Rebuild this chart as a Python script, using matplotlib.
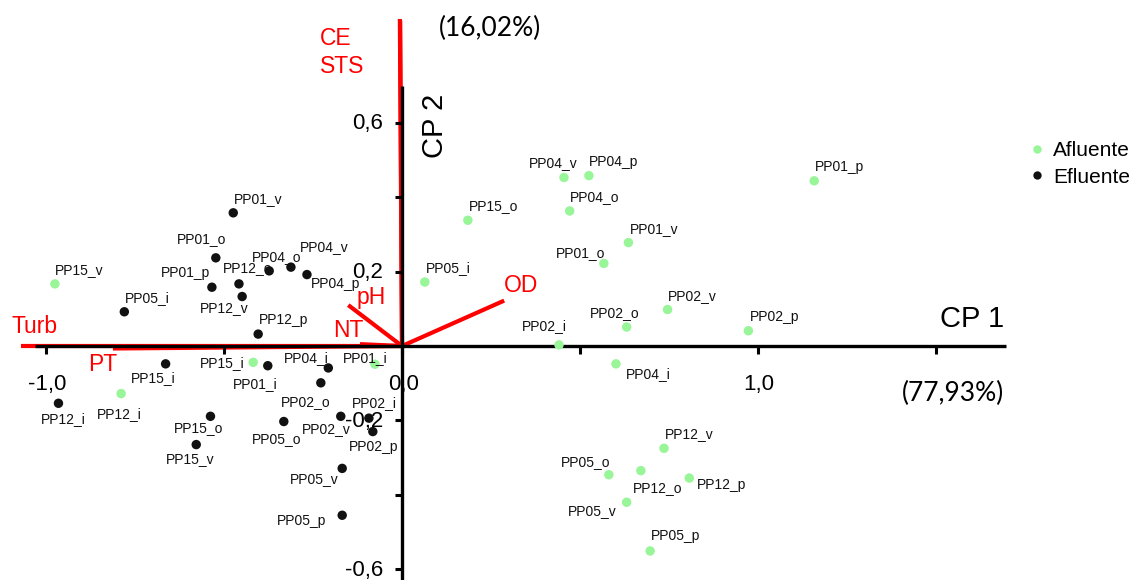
import matplotlib.pyplot as plt
from matplotlib.lines import Line2D
from matplotlib.markers import TICKDOWN, TICKLEFT

plt.rcParams['font.family'] = ['Liberation Sans', 'DejaVu Sans']

# escores das amostras no CP1 e CP2
afl_names = ['PP15_v', 'PP15_o', 'PP04_o', 'PP01_v', 'PP01_o', 'PP05_i', 'PP02_v', 'PP02_o',
             'PP02_i', 'PP02_p', 'PP04_i', 'PP04_v', 'PP04_p', 'PP01_p', 'PP15_i', 'PP01_i',
             'PP12_i', 'PP12_v', 'PP05_o', 'PP12_o', 'PP12_p', 'PP05_v', 'PP05_p']
afl_cp1 = [-0.975, 0.185, 0.471, 0.636, 0.567, 0.064, 0.746, 0.631,
           0.441, 0.973, 0.601, 0.455, 0.525, 1.158, -0.418, -0.076,
           -0.789, 0.736, 0.581, 0.671, 0.807, 0.631, 0.697]
afl_cp2 = [0.167, 0.338, 0.363, 0.278, 0.222, 0.172, 0.098, 0.051,
           0.003, 0.041, -0.048, 0.453, 0.458, 0.444, -0.044, -0.049,
           -0.128, -0.275, -0.346, -0.335, -0.355, -0.420, -0.551]

efl_names = ['PP01_v', 'PP01_o', 'PP01_p', 'PP12_o', 'PP12_v', 'PP04_o', 'PP04_v', 'PP04_p',
             'PP12_p', 'PP05_i', 'PP15_i', 'PP01_i', 'PP04_i', 'PP02_o', 'PP12_i', 'PP15_o',
             'PP15_v', 'PP05_o', 'PP02_v', 'PP02_i', 'PP02_p', 'PP05_v', 'PP05_p']
efl_cp1 = [-0.474, -0.523, -0.534, -0.458, -0.449, -0.373, -0.312, -0.267,
           -0.404, -0.780, -0.664, -0.377, -0.207, -0.228, -0.965, -0.538,
           -0.578, -0.332, -0.172, -0.093, -0.082, -0.168, -0.168]
efl_cp2 = [0.358, 0.237, 0.158, 0.167, 0.133, 0.202, 0.212, 0.192,
           0.032, 0.092, -0.048, -0.053, -0.059, -0.099, -0.154, -0.189,
           -0.265, -0.203, -0.189, -0.194, -0.230, -0.329, -0.455]

# cargas das variaveis
var_names = ['CE', 'STS', 'Turb', 'PT', 'NT', 'pH', 'OD']
var_cp1 = [-0.006, -0.005, -1.07, -0.812, -0.118, -0.151, 0.287]
var_cp2 = [0.879, 0.875, 0.0, -0.0067, 0.005, 0.110, 0.122]

var_exp = [77.93, 16.02]

x_ticks = [-1.0, -0.5, 0.0, 0.5, 1.0, 1.5]
x_ticklabels = [-1.0, 0.0, 1.0]
y_ticks = [-0.6, -0.4, -0.2, 0.2, 0.4, 0.6]
y_ticklabels = [-0.6, -0.2, 0.2, 0.6]

# posicao dos rotulos em pixels (dx para direita, dy para baixo, ate a linha de base)
afl_offsets = {
    'PP15_v': (0, -9.7), 'PP15_o': (0.6, -10.3), 'PP04_o': (0.3, -10.3), 'PP01_v': (1, -9.4),
    'PP01_o': (-47.7, -6.6), 'PP05_i': (1, -10.3), 'PP02_v': (0.6, -9.7), 'PP02_o': (-36.7, -10.3),
    'PP02_i': (-36.7, -15), 'PP02_p': (1, -9.4), 'PP04_i': (9.7, 14), 'PP04_v': (-35, -10.6),
    'PP04_p': (0.3, -10), 'PP01_p': (0.7, -10.3), 'PP15_i': (-53.3, 4.4), 'PP01_i': (-31.7, -2.6),
    'PP12_i': (-24.3, 24), 'PP12_v': (1, -10.6), 'PP05_o': (-47.7, -8.7), 'PP12_o': (-8.3, 21),
    'PP12_p': (7.4, 11), 'PP05_v': (-58.4, 12.7), 'PP05_p': (0.7, -11),
}
efl_offsets = {
    'PP01_v': (1, -10.3), 'PP01_o': (-39, -15.3), 'PP01_p': (-51, -10.3), 'PP12_o': (-15.7, -12),
    'PP12_v': (-42.3, 15), 'PP04_o': (-17.6, -9.7), 'PP04_v': (9, -16.3), 'PP04_p': (4, 13.6),
    'PP12_p': (1, -10), 'PP05_i': (0.7, -10), 'PP15_i': (-34.7, 17.7), 'PP01_i': (-35.4, 22.6),
    'PP04_i': (-44, -5.7), 'PP02_o': (-40, 23), 'PP12_i': (-17.3, 20), 'PP15_o': (-37, 16),
    'PP15_v': (-30.3, 18.6), 'PP05_o': (-32, 21.6), 'PP02_v': (-39, 16.4), 'PP02_i': (-16.7, -11.6),
    'PP02_p': (-24.4, 19.3), 'PP05_v': (-52.3, 14.4), 'PP05_p': (-65, 9.7),
}
var_offsets = {
    'CE': (-80, 26), 'STS': (-80, 53), 'Turb': (-9.3, -13.4), 'PT': (-25, 22.2),
    'NT': (-27, -6.7), 'pH': (8.7, -1), 'OD': (0, -8.4),
}

GREEN = '#98f598'
RED = '#ff0000'


def fmt(v, nd=1):
    return ('%.*f' % (nd, v)).replace('.', ',')


def label_points(ax, names, xs, ys, offsets):
    for name, x, y in zip(names, xs, ys):
        dx, dy = offsets[name]
        ax.annotate(name, (x, y), xytext=(dx, -dy), textcoords='offset pixels',
                    ha='left', va='baseline', fontsize=10, color='#111111', zorder=6)


fig = plt.figure(figsize=(11.34, 5.80), dpi=100)
ax = fig.add_axes([0, 0, 1, 1])
ax.set_xlim(-402 / 356, 732 / 356)
ax.set_ylim(-234 / 372, 346 / 372)
ax.axis('off')

# vetores das variaveis
for name, x, y in zip(var_names, var_cp1, var_cp2):
    ax.plot([0, x], [0, y], color=RED, lw=3.0, solid_capstyle='butt', zorder=2)
    dx, dy = var_offsets[name]
    ax.annotate(name, (x, y), xytext=(dx, -dy), textcoords='offset pixels',
                ha='left', va='baseline', fontsize=16.5, color=RED, zorder=6)

# eixos cruzando na origem
ax.plot([-1.031, 1.697], [0, 0], color='black', lw=2.4, solid_capstyle='butt', zorder=3)
ax.plot([0, 0], [-0.7, 0.699], color='black', lw=2.4, solid_capstyle='butt', zorder=3)
ax.plot(x_ticks, [0] * len(x_ticks), ls='none', marker=TICKDOWN, ms=6, mew=2.2,
        color='black', zorder=3)
ax.plot([0] * len(y_ticks), y_ticks, ls='none', marker=TICKLEFT, ms=5, mew=2.2,
        color='black', zorder=3)
for v in x_ticklabels:
    ax.annotate(fmt(v), (v, 0), xytext=(2 if v == 0 else 1, -44), textcoords='offset pixels',
                ha='center', va='baseline', fontsize=16)
for v in y_ticklabels:
    ax.annotate(fmt(v), (0, v), xytext=(-19, -6.5), textcoords='offset pixels',
                ha='right', va='baseline', fontsize=16)

# amostras
ax.scatter(afl_cp1, afl_cp2, s=46, color=GREEN, edgecolors='none', zorder=5)
ax.scatter(efl_cp1, efl_cp2, s=46, color='#111111', edgecolors='none', zorder=5)
label_points(ax, afl_names, afl_cp1, afl_cp2, afl_offsets)
label_points(ax, efl_names, efl_cp1, efl_cp2, efl_offsets)

# titulos dos eixos
ax.annotate('CP 1', (0, 0), xytext=(602, 19.3), textcoords='offset pixels',
            ha='right', va='baseline', fontsize=21)
ax.annotate('CP 2', (0, 0), xytext=(33, 220), textcoords='offset pixels',
            ha='center', va='center', rotation=90, fontsize=21)
ax.annotate('(%s%%)' % fmt(var_exp[0], 2), (0, 0), xytext=(602, -47), textcoords='offset pixels',
            ha='right', va='center', fontsize=19, family=['Lato', 'DejaVu Sans'])
ax.annotate('(%s%%)' % fmt(var_exp[1], 2), (0, 0), xytext=(88.5, 317.5), textcoords='offset pixels',
            ha='center', va='center', fontsize=19, family=['Lato', 'DejaVu Sans'])

handles = [Line2D([], [], ls='none', marker='o', ms=6, color=GREEN, mec='none'),
           Line2D([], [], ls='none', marker='o', ms=6, color='#111111', mec='none')]
fig.legend(handles, ['Afluente', 'Efluente'], loc='upper left', bbox_to_anchor=(0.8958, 0.774),
           frameon=False, fontsize=15, borderpad=0, handlelength=1.0, handletextpad=0.3,
           labelspacing=0.35)

fig.savefig('out.png', dpi=100)
